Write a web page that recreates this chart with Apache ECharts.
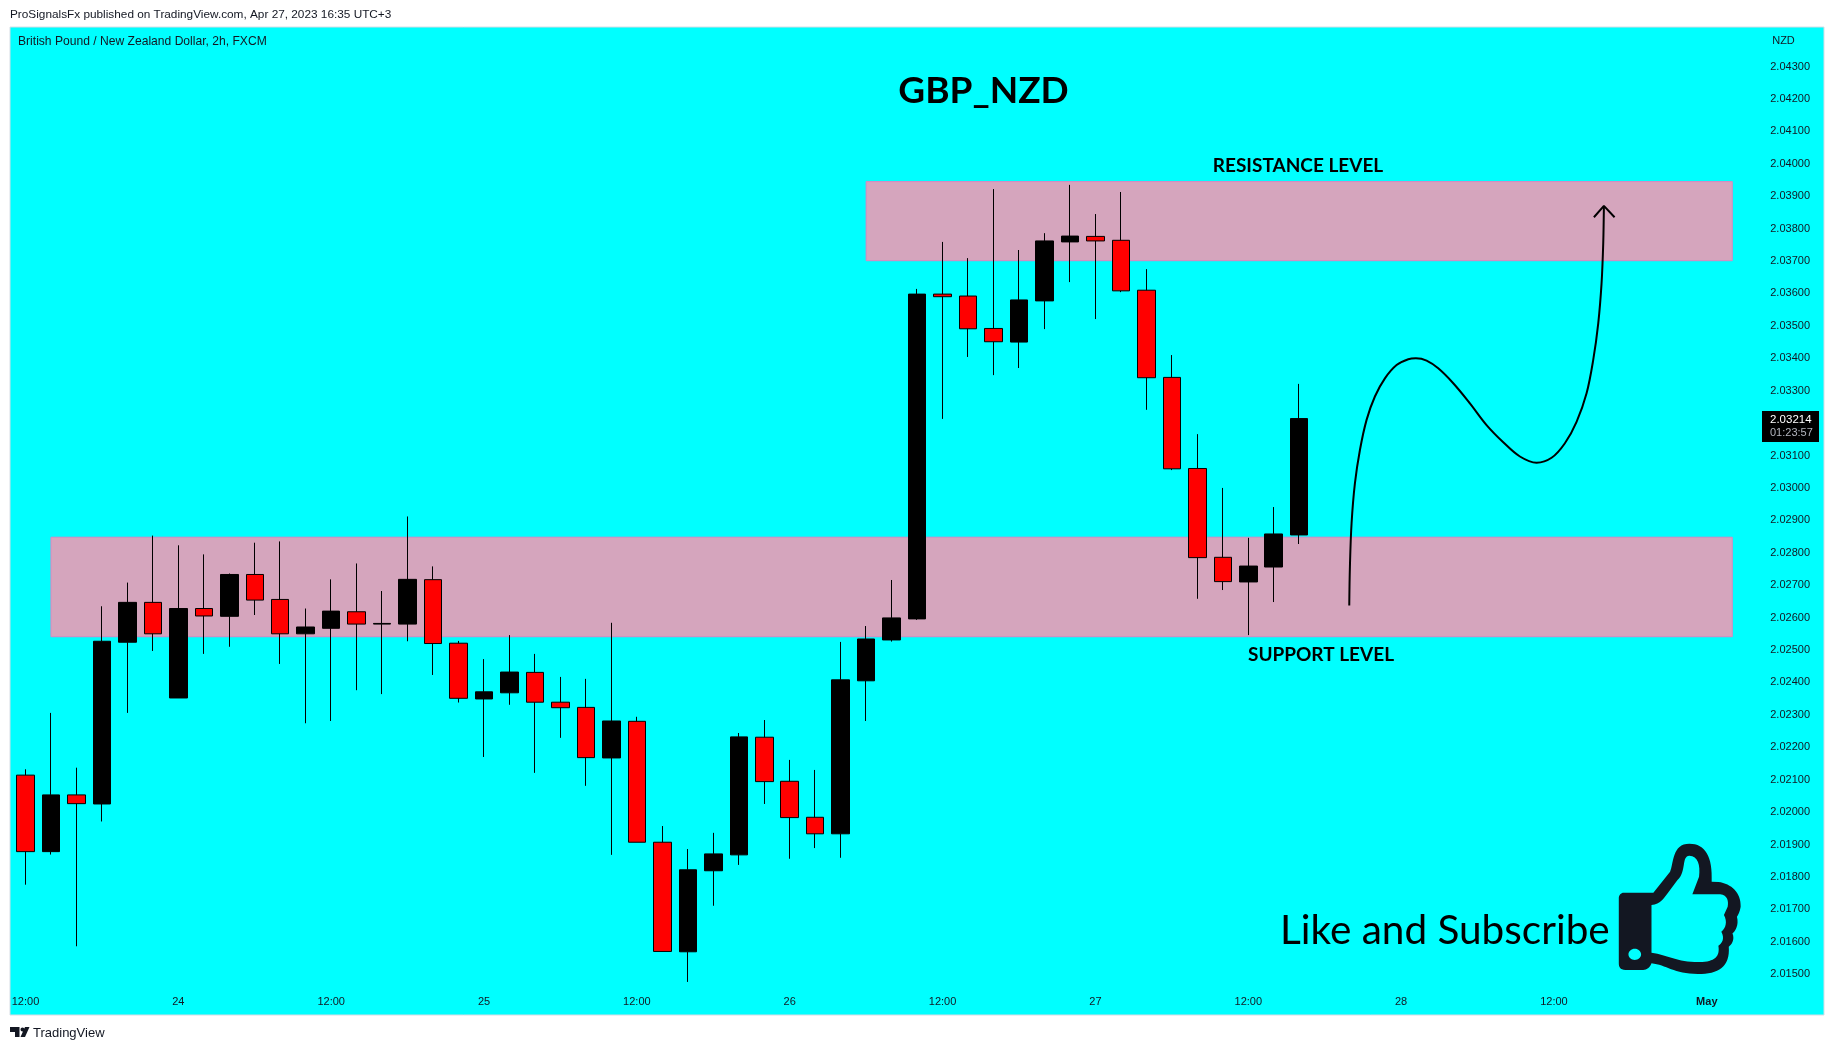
<!DOCTYPE html>
<html>
<head>
<meta charset="utf-8">
<style>html,body{margin:0;padding:0;background:#fff}#c{width:1834px;height:1050px}</style>
<script src="https://cdn.jsdelivr.net/npm/echarts@6/dist/echarts.min.js"></script>
</head>
<body>
<div id="c"></div>
<script>
// Each candle: open, close, low, high
const candleOpen = [2.02114,2.01878,2.02053,2.02025,2.02524,2.02647,2.02352,2.02628,2.02604,2.02733,2.02656,2.02550,2.02567,2.02618,2.02580,2.02580,2.02717,
  2.02521,2.02349,2.02368,2.02431,2.02339,2.02323,2.02167,2.02280,2.01907,2.01569,2.01819,2.01868,2.02231,2.02095,2.01984,2.01933,2.02405,
  2.02531,2.02596,2.03598,2.03592,2.03492,2.03450,2.03577,2.03759,2.03776,2.03764,2.03610,2.03341,2.03060,2.02786,2.02710,2.02756,2.02855];
const candleClose = [2.01878,2.02053,2.02026,2.02527,2.02647,2.02550,2.02628,2.02605,2.02733,2.02654,2.02550,2.02571,2.02620,2.02580,2.02582,2.02718,2.02520,
  2.02351,2.02371,2.02432,2.02339,2.02322,2.02168,2.02281,2.01907,2.01570,2.01822,2.01871,2.02232,2.02094,2.01983,2.01933,2.02408,2.02534,
  2.02599,2.03598,2.03590,2.03491,2.03451,2.03580,2.03762,2.03777,2.03762,2.03608,2.03340,2.03059,2.02785,2.02711,2.02759,2.02858,2.03214];
const candleLow = [2.01776,2.01869,2.01586,2.01971,2.02306,2.02497,2.02352,2.02488,2.02510,2.02608,2.02457,2.02274,2.02281,2.02376,2.02364,2.02527,2.02423,
  2.02338,2.02170,2.02331,2.02121,2.02229,2.02081,2.01868,2.01907,2.01570,2.01476,2.01711,2.01837,2.02025,2.01856,2.01889,2.01859,2.02281,
  2.02526,2.02593,2.03213,2.03404,2.03348,2.03370,2.03490,2.03635,2.03521,2.03604,2.03241,2.03055,2.02658,2.02685,2.02546,2.02648,2.02827];
const candleHigh = [2.02132,2.02306,2.02137,2.02635,2.02708,2.02853,2.02823,2.02795,2.02736,2.02831,2.02835,2.02628,2.02718,2.02767,2.02682,2.02912,2.02758,
  2.02528,2.02472,2.02546,2.02488,2.02417,2.02411,2.02584,2.02294,2.01957,2.01886,2.01936,2.02244,2.02284,2.02161,2.02130,2.02525,2.02574,
  2.02716,2.03614,2.03759,2.03709,2.03922,2.03734,2.03786,2.03935,2.03845,2.03913,2.03675,2.03410,2.03166,2.03000,2.02846,2.02941,2.03321];

// Time axis: bar position of each tick, and its label
const timeTickPos = [0,6,12,18,24,30,36,42,48,54,60,66];
const timeTickLabels = ['12:00','24','12:00','25','12:00','26','12:00','27','12:00','28','12:00','May'];
// Price axis ticks
const priceTicks = [2.015,2.016,2.017,2.018,2.019,2.02,2.021,2.022,2.023,2.024,2.025,2.026,2.027,2.028,2.029,2.03,2.031,2.032,2.033,2.034,2.035,2.036,2.037,2.038,2.039,2.04,2.041,2.042,2.043];

// Zones: [x from, x to, price top, price bottom]
const resistanceZone = [33.0,67.0,2.03945,2.03701];
const supportZone = [1.0,67.0,2.02848,2.02541];

// Hand-drawn projected path, bar position and price
const pathX = [51.964,51.99,52.055,52.186,52.383,52.644,52.971,53.364,53.822,54.28,54.581,55.0,55.457,56.046,56.7,57.354,58.009,58.663,59.317,59.906,60.429,60.887,61.28,61.541,61.738,61.868,61.934,61.96];
const pathPrice = [2.02637,2.02757,2.02891,2.03014,2.03117,2.0321,2.03282,2.03338,2.03379,2.03397,2.034,2.03393,2.03369,2.03323,2.03261,2.03194,2.03141,2.03097,2.03078,2.03093,2.03138,2.03204,2.03292,2.03395,2.03508,2.03631,2.03755,2.03868];
const arrowX = [61.568,61.96,62.379];
const arrowPrice = [2.03835,2.0387,2.03835];

const ink = '#131722';
const uiFont = '"Liberation Sans", Arial, sans-serif';
const headFont = 'Lato, sans-serif';

const thumbPath = 'M1005 278L1085 278L1130 215C1140 190 1135 131 1182 131C1225 131 1245 170 1242 245L1260 246C1295 250 1322 280 1320 320C1318 335 1313 345 1310 350C1316 375 1305 395 1298 400C1305 420 1295 435 1288 440C1292 500 1260 522 1205 522C1140 522 1120 495 1080 490L1078 495C1070 510 1060 510 1050 510L1010 510C995 510 992 500 992 490L992 295C992 285 998 278 1005 278Z'
  + 'M1080 458C1125 465 1150 487 1210 486C1250 485 1265 470 1260 437C1270 430 1278 415 1268 395C1280 385 1285 365 1275 345L1285 320C1288 305 1285 285 1265 283L1190 283L1208 230C1212 195 1205 168 1182 167C1160 168 1175 215 1150 240L1122 282C1112 295 1105 313 1080 315Z'
  + 'M1052 463C1052 453.6 1044.4 446 1035 446C1025.6 446 1018 453.6 1018 463C1018 472.4 1025.6 480 1035 480C1044.4 480 1052 472.4 1052 463Z';
const logoPath = 'M10 1027L19.5 1027L19.5 1037L15 1037L15 1032L10 1032Z'
  + 'M29.5 1027L25 1037L20.5 1037L25 1027Z'
  + 'M22.5 1027.5C23.6 1027.5 24.5 1028.4 24.5 1029.5C24.5 1030.6 23.6 1031.5 22.5 1031.5C21.4 1031.5 20.5 1030.6 20.5 1029.5C20.5 1028.4 21.4 1027.5 22.5 1027.5Z';

const candles = candleOpen.map((o,i)=>[i,o,candleClose[i],candleLow[i],candleHigh[i]]);
const zone = z => [{xAxis:z[0],yAxis:z[2]},{xAxis:z[1],yAxis:z[3]}];

function txt(x,y,text,font,color,align){
  return {type:'text',x,y,z:50,style:{text,font,fill:color||ink,align:align||'left',verticalAlign:'middle'}};
}

const chart = echarts.init(document.getElementById('c'),null,{renderer:'canvas'});
chart.setOption({
  animation:false,
  backgroundColor:'#ffffff',
  grid:{left:10,right:10,top:27,bottom:35,show:true,backgroundColor:'#00ffff',borderColor:'#d6dce4',borderWidth:1},
  xAxis:{type:'value',min:-0.608,max:70.6,splitLine:{show:false},axisLine:{show:false},axisTick:{show:false},
    axisLabel:{inside:true,margin:8,customValues:timeTickPos,fontFamily:uiFont,fontSize:11,color:ink,hideOverlap:false,showMinLabel:true,showMaxLabel:true,
      formatter:v=>{const l=timeTickLabels[timeTickPos.indexOf(v)];return l==='May'?'{b|May}':l;},
      rich:{b:{fontFamily:uiFont,fontSize:11,fontWeight:'bold',color:ink}}}},
  yAxis:{type:'value',position:'right',min:2.01374,max:2.04422,scale:true,splitLine:{show:false},axisLine:{show:false},axisTick:{show:false},
    axisLabel:{inside:true,margin:14,padding:[2,0,0,0],customValues:priceTicks,fontFamily:uiFont,fontSize:11,color:ink,formatter:v=>v.toFixed(5)}},
  series:[
    {type:'candlestick',data:candles,encode:{x:0,y:[1,2,3,4]},barWidth:18,
      itemStyle:{color:'#000000',color0:'#ff0000',borderColor:'#000000',borderColor0:'#000000',borderWidth:1},
      markArea:{silent:true,itemStyle:{color:'#d5a5bd',borderColor:'#d988c2',borderWidth:1},
        data:[zone(resistanceZone),zone(supportZone)]}},
    {type:'line',data:pathX.map((x,i)=>[x,pathPrice[i]]),smooth:0.35,showSymbol:false,silent:true,z:5,
      lineStyle:{color:'#000000',width:2}},
    {type:'line',data:arrowX.map((x,i)=>[x,arrowPrice[i]]),showSymbol:false,silent:true,z:5,
      lineStyle:{color:'#000000',width:2}},
    {type:'custom',coordinateSystem:'none',data:[[0]],silent:true,z:6,
      renderItem:()=>({type:'group',children:[
        {type:'path',shape:{pathData:thumbPath,x:1618.8,y:843.67,width:121.9,height:130.33,layout:'cover'},style:{fill:ink}},
        {type:'path',shape:{pathData:logoPath,x:10,y:1027,width:19.5,height:10,layout:'cover'},style:{fill:ink}}
      ]})}
  ],
  graphic:[
    txt(10,14.5,'ProSignalsFx published on TradingView.com, Apr 27, 2023 16:35 UTC+3','11.8px '+uiFont),
    txt(18,42,'British Pound / New Zealand Dollar, 2h, FXCM','12.1px '+uiFont),
    txt(1783.5,41,'NZD','11px '+uiFont,ink,'center'),
    txt(983.5,91,'GBP_NZD','bold 37px '+headFont,'#000000','center'),
    txt(1298,166,'RESISTANCE LEVEL','bold 19px '+headFont,'#000000','center'),
    txt(1321,655,'SUPPORT LEVEL','bold 19px '+headFont,'#000000','center'),
    txt(1280,931,'Like and Subscribe','40.5px '+headFont,'#000000'),
    // current price tag
    {type:'rect',z:49,shape:{x:1762,y:411,width:57,height:31},style:{fill:'#000000'}},
    txt(1770,420,'2.03214','11.5px '+uiFont,'#ffffff'),
    txt(1770,433,'01:23:57','11px '+uiFont,'#b2b5be'),
    txt(33,1033,'TradingView','13px '+uiFont)
  ]
});
</script>
</body>
</html>
